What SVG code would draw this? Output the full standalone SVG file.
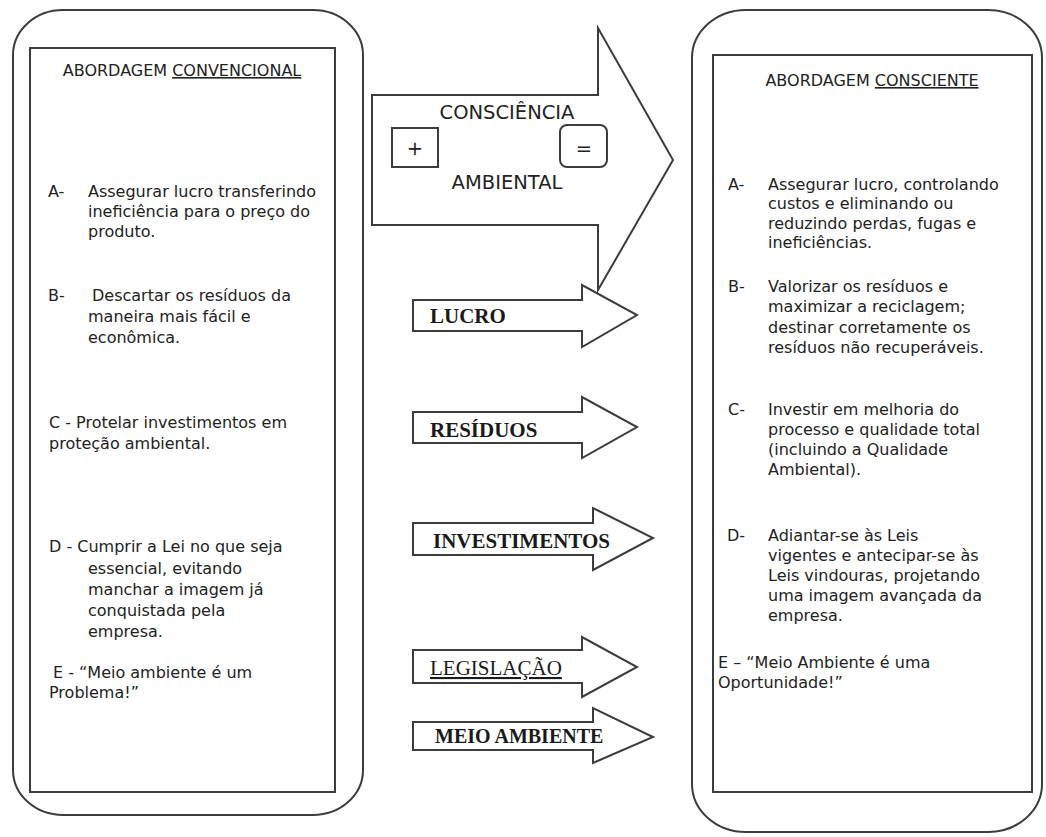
<svg xmlns="http://www.w3.org/2000/svg" width="1046" height="837" viewBox="0 0 1046 837">
<style>
  .frame{fill:#fff;stroke:#3c3c3c;stroke-width:2}
  .box{fill:#fff;stroke:#3c3c3c;stroke-width:2}
  .arr{fill:#fff;stroke:#3c3c3c;stroke-width:2;stroke-linejoin:miter}
  .t{font-family:"DejaVu Sans",Verdana,sans-serif;font-size:16px;fill:#222}
  .h{font-family:"DejaVu Sans",Verdana,sans-serif;font-size:16px;fill:#222;text-anchor:middle}
  .m{font-family:"DejaVu Sans",Verdana,sans-serif;font-size:19.5px;fill:#222;text-anchor:middle}
  .lb{font-family:"Liberation Serif","Times New Roman",serif;font-size:21px;font-weight:bold;fill:#1a1a1a}
  .lr{font-family:"Liberation Serif","Times New Roman",serif;font-size:21px;fill:#1a1a1a}
  .u{text-decoration:underline}
</style>
<rect width="1046" height="837" fill="#fff"/>

<g id="painel-convencional">
  <rect class="frame" x="13" y="10" width="350" height="805" rx="50" ry="45"/>
  <rect class="box" x="30" y="48" width="305" height="744"/>
  <text class="h" x="182" y="76">ABORDAGEM <tspan class="u">CONVENCIONAL</tspan></text>
  <text class="t" x="48" y="197">A-</text>
  <text class="t" x="88" y="197">Assegurar lucro transferindo</text>
  <text class="t" x="88" y="217">ineficiência para o preço do</text>
  <text class="t" x="88" y="237">produto.</text>
  <text class="t" x="48" y="301">B-</text>
  <text class="t" x="92" y="301">Descartar os resíduos da</text>
  <text class="t" x="88" y="322">maneira mais fácil e</text>
  <text class="t" x="88" y="343">econômica.</text>
  <text class="t" x="49" y="428">C - Protelar investimentos em</text>
  <text class="t" x="49" y="449">proteção ambiental.</text>
  <text class="t" x="49" y="552">D - Cumprir a Lei no que seja</text>
  <text class="t" x="88" y="574">essencial, evitando</text>
  <text class="t" x="88" y="595">manchar a imagem já</text>
  <text class="t" x="88" y="616">conquistada pela</text>
  <text class="t" x="88" y="637">empresa.</text>
  <text class="t" x="53" y="678">E - “Meio ambiente é um</text>
  <text class="t" x="49" y="698">Problema!”</text>
</g>

<g id="consciencia-ambiental">
  <polygon class="arr" points="372,95 598,95 598,28 673,160 598,290 598,225 372,225"/>
  <text class="m" x="507" y="119">CONSCIÊNCIA</text>
  <text class="m" x="507" y="189">AMBIENTAL</text>
  <rect class="box" x="392" y="128" width="46" height="39"/>
  <text class="m" x="415" y="155">+</text>
  <rect class="box" x="560" y="125" width="47" height="42" rx="7"/>
  <text class="m" x="584" y="155">=</text>
</g>

<g id="connectors">
  <g id="seta-lucro">
    <polygon class="arr" points="413,300 582,300 582,285 637,315 582,347 582,331 413,331"/>
    <text class="lb" x="430" y="323">LUCRO</text>
  </g>
  <g id="seta-residuos">
    <polygon class="arr" points="413,412 582,412 582,397 637,427 582,458 582,443 413,443"/>
    <text class="lb" x="430" y="437">RESÍDUOS</text>
  </g>
  <g id="seta-investimentos">
    <polygon class="arr" points="413,523 593,523 593,508 653,538 593,570 593,555 413,555"/>
    <text class="lb" x="433" y="548">INVESTIMENTOS</text>
  </g>
  <g id="seta-legislacao">
    <polygon class="arr" points="413,650 582,650 582,637 637,667 582,697 582,683 413,683"/>
    <text class="lr u" x="430" y="675">LEGISLAÇÃO</text>
  </g>
  <g id="seta-meio-ambiente">
    <polygon class="arr" points="413,722 593,722 593,708 653,737 593,763 593,750 413,750"/>
    <text class="lb" x="435" y="743" style="font-size:20px">MEIO AMBIENTE</text>
  </g>
</g>

<g id="painel-consciente">
  <rect class="frame" x="692" y="10" width="350" height="822" rx="54" ry="48"/>
  <rect class="box" x="713" y="55" width="319" height="737"/>
  <text class="h" x="872" y="86">ABORDAGEM <tspan class="u">CONSCIENTE</tspan></text>
  <text class="t" x="728" y="190">A-</text>
  <text class="t" x="768" y="190">Assegurar lucro, controlando</text>
  <text class="t" x="768" y="209">custos e eliminando ou</text>
  <text class="t" x="768" y="229">reduzindo perdas, fugas e</text>
  <text class="t" x="768" y="248">ineficiências.</text>
  <text class="t" x="728" y="292">B-</text>
  <text class="t" x="768" y="292">Valorizar os resíduos e</text>
  <text class="t" x="768" y="312">maximizar a reciclagem;</text>
  <text class="t" x="768" y="333">destinar corretamente os</text>
  <text class="t" x="768" y="353">resíduos não recuperáveis.</text>
  <text class="t" x="728" y="415">C-</text>
  <text class="t" x="768" y="415">Investir em melhoria do</text>
  <text class="t" x="768" y="435">processo e qualidade total</text>
  <text class="t" x="768" y="455">(incluindo a Qualidade</text>
  <text class="t" x="768" y="475">Ambiental).</text>
  <text class="t" x="727" y="541">D-</text>
  <text class="t" x="768" y="541">Adiantar-se às Leis</text>
  <text class="t" x="768" y="561">vigentes e antecipar-se às</text>
  <text class="t" x="768" y="581">Leis vindouras, projetando</text>
  <text class="t" x="768" y="601">uma imagem avançada da</text>
  <text class="t" x="768" y="621">empresa.</text>
  <text class="t" x="718" y="668">E – “Meio Ambiente é uma</text>
  <text class="t" x="718" y="688">Oportunidade!”</text>
</g>
</svg>
